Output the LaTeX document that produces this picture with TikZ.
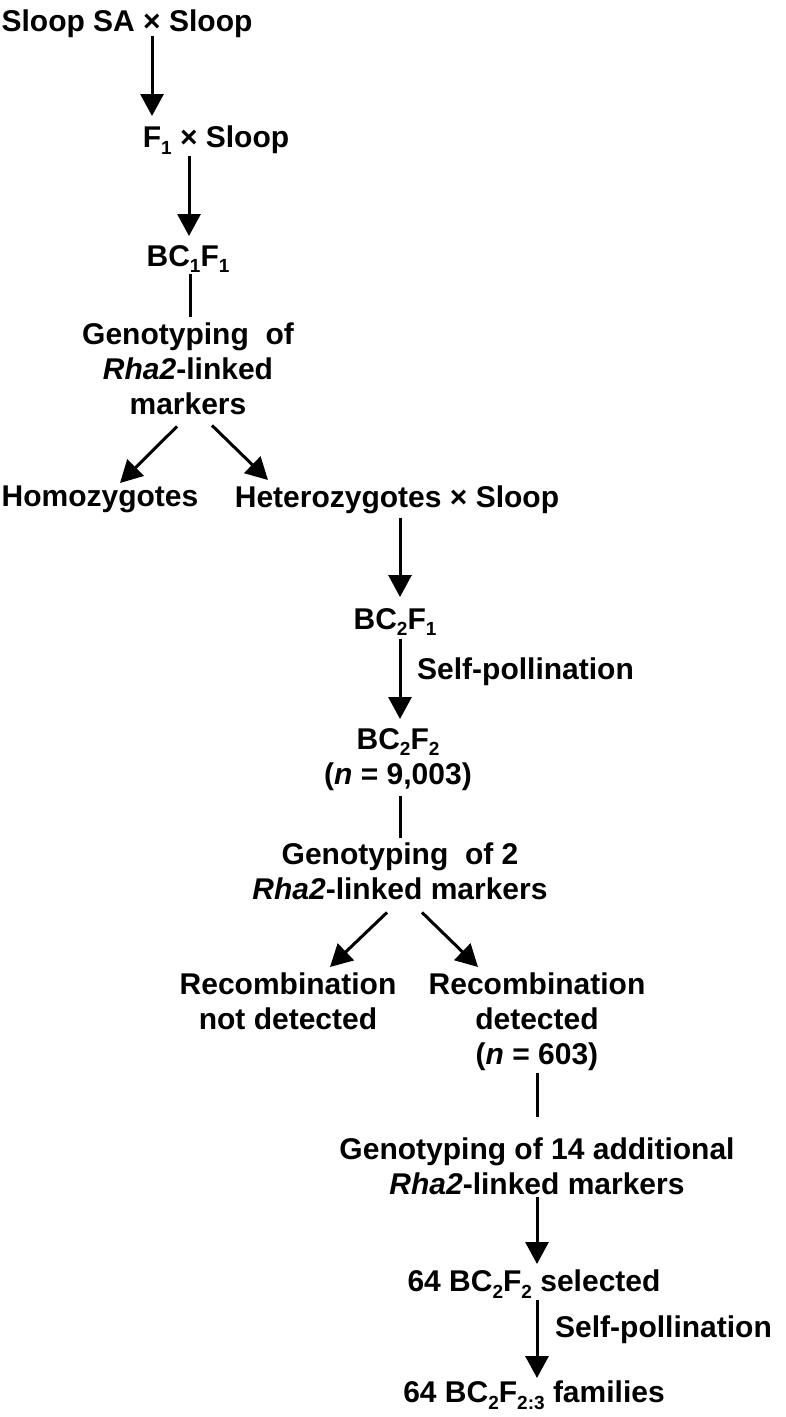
\documentclass[tikz,border=0pt]{standalone}
\usepackage{fontspec}
\setmainfont{Liberation Sans}
\usetikzlibrary{arrows.meta}

\newcommand{\sbs}[1]{\raisebox{-0.22em}{\fontsize{19}{19}\selectfont #1}}

\tikzset{
  lbl/.style={inner sep=0pt, anchor=north, align=center,
    font=\fontsize{30}{35}\selectfont\bfseries},
  flow/.style={line width=3pt, -{Triangle[width=23pt,length=22pt]}},
  link/.style={line width=3pt},
}

\begin{document}
\begin{tikzpicture}[x=1pt,y=-1pt]
  \useasboundingbox (0,0) rectangle (786,1417);

  % 交配
  \node[lbl] (sloop) at (127,10) {Sloop SA × Sloop};
  \node[lbl] (f1) at (216,126) {F\sbs{1} × Sloop};
  \node[lbl] (bc1) at (188,245) {BC\sbs{1}F\sbs{1}};
  \node[lbl] (geno1) at (188,323) {Genotyping~ of\\\textit{Rha2}-linked\\markers};
  \node[lbl] (homo) at (100,486) {Homozygotes};
  \node[lbl] (hetero) at (397,486) {Heterozygotes × Sloop};
  \node[lbl] (bc2f1) at (395,608) {BC\sbs{2}F\sbs{1}};
  \node[lbl, anchor=north west] (self1) at (417,658) {Self-pollination};
  \node[lbl] (bc2f2) at (398,728) {BC\sbs{2}F\sbs{2}\\(\textit{n} = 9,003)};
  \node[lbl] (geno2) at (400,843) {Genotyping~ of 2\\\textit{Rha2}-linked markers};

  % 組換え
  \node[lbl] (recno) at (288,973) {Recombination\\not detected};
  \node[lbl] (recyes) at (537,973) {Recombination\\detected\\(\textit{n} = 603)};
  \node[lbl] (geno3) at (537,1138) {Genotyping of 14 additional\\\textit{Rha2}-linked markers};
  \node[lbl] (sel64) at (534,1270) {64 BC\sbs{2}F\sbs{2} selected};
  \node[lbl, anchor=north west] (self2) at (555,1316) {Self-pollination};
  \node[lbl] (fam64) at (534,1381) {64 BC\sbs{2}F\sbs{2:3} families};

  % 矢印
  \coordinate (c1) at ([xshift=25pt]sloop.south);
  \draw[flow, shorten <=-2pt, shorten >=10pt] (c1) -- (c1 |- f1.north);
  \coordinate (c2) at ([xshift=-27pt]f1.south);
  \draw[flow, shorten <=1pt, shorten >=9pt] (c2) -- (c2 |- bc1.north);
  \draw[link, shorten <=1pt, shorten >=6pt] ([xshift=2pt]bc1.south) -- ([xshift=2pt]geno1.north);
  \draw[flow] ([shift={(-11pt,-11pt)}]geno1.south) -- ([shift={(20pt,3pt)}]homo.north);
  \draw[flow] ([shift={(24pt,-10pt)}]geno1.south) -- ([shift={(-129pt,6pt)}]hetero.north);

  \coordinate (c3) at ([xshift=3pt]hetero.south);
  \draw[flow, shorten <=3pt, shorten >=11pt] (c3) -- (c3 |- bc2f1.north);
  \draw[flow, shorten <=3pt, shorten >=9pt] (c3 |- bc2f1.south) -- (c3 |- bc2f2.north);
  \draw[link, shorten <=5pt, shorten >=5pt] (c3 |- bc2f2.south) -- (c3 |- geno2.north);
  \draw[flow] ([shift={(-13pt,-12pt)}]geno2.south) -- ([shift={(42pt,6pt)}]recno.north);
  \draw[flow] ([shift={(22pt,-12pt)}]geno2.south) -- ([shift={(-59pt,6pt)}]recyes.north);

  \draw[link, shorten <=2pt, shorten >=21pt] (recyes.south) -- (geno3.north);
  \draw[flow, shorten <=2pt, shorten >=6pt] (geno3.south) -- (geno3.south |- sel64.north);
  \draw[flow, shorten <=1pt, shorten >=3pt] (geno3.south |- sel64.south) -- (geno3.south |- fam64.north);
\end{tikzpicture}
\end{document}
